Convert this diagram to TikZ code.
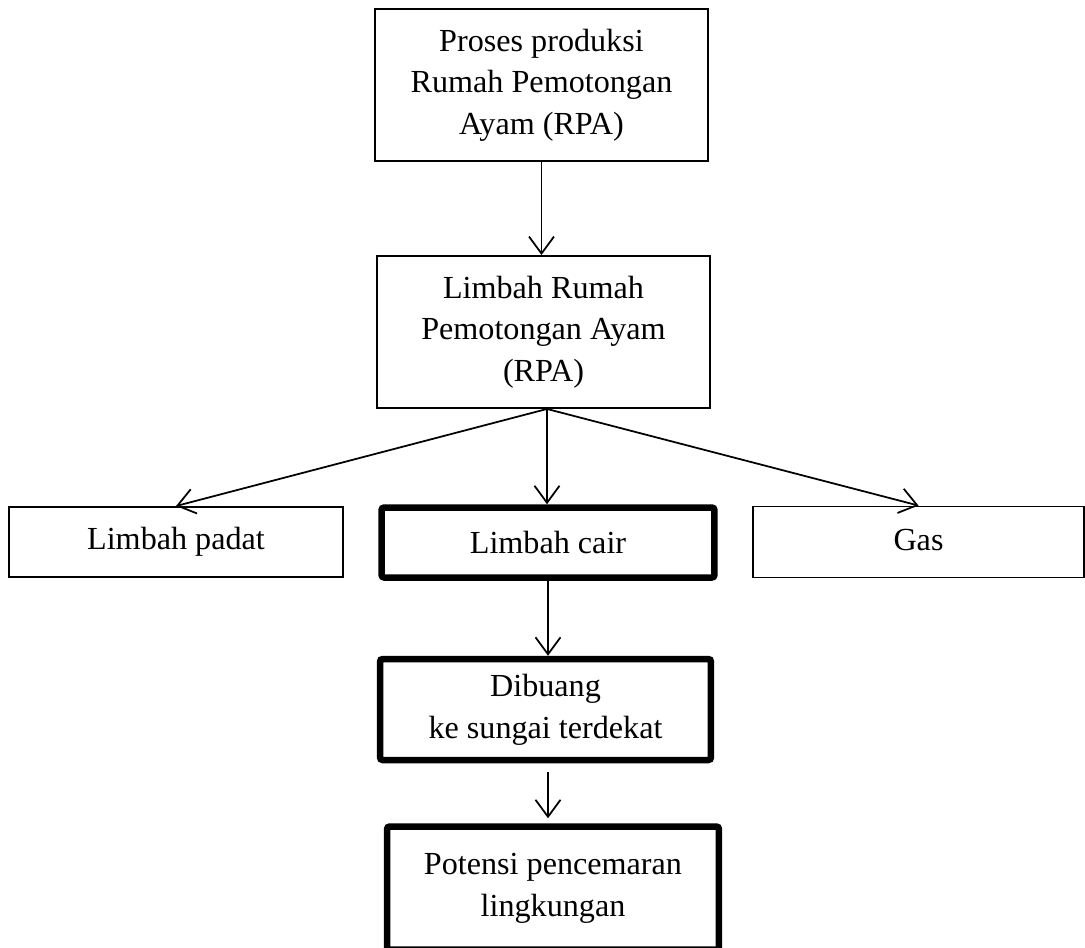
\documentclass[tikz,border=0pt]{standalone}
\usepackage{fontspec}
\setmainfont{Liberation Serif}
\usetikzlibrary{arrows.meta, positioning, calc}
\definecolor{hitam}{HTML}{000000}
\colorlet{colGaris}{hitam}
\colorlet{colTeks}{hitam}
\newcommand{\hurufKotak}{\fontsize{18.3}{23.7}\selectfont}
\tikzset{
  kotakBiasa/.style={
    draw=colGaris, line width=1.1pt, inner sep=0pt,
    align=center, font=\hurufKotak, text=colTeks, fill=white
  },
  kotakTebal/.style={kotakBiasa, line width=3.7pt, rounded corners=1.5pt},
  panah/.style={-{Straight Barb[length=0.34cm, width=0.5cm]}, line width=1pt, colGaris},
}
\begin{document}
\begin{tikzpicture}[x=0.02cm, y=-0.02cm]
    \useasboundingbox (0,0) rectangle (1085,947);
    \node[kotakBiasa, minimum width=6.66cm, minimum height=3.04cm] (proses) at (541.5,85)
      {Proses produksi\\Rumah Pemotongan\\Ayam (RPA)};
    \node[kotakBiasa, minimum width=6.66cm, minimum height=3.04cm] (limbah) at (543.5,332)
      {Limbah Rumah\\Pemotongan Ayam\\(RPA)};
    \node[kotakBiasa, minimum width=6.68cm, minimum height=1.4cm] (padat) at (176,542) {Limbah padat};
    \node[kotakTebal, minimum width=6.66cm, minimum height=1.4cm] (cair) at (548,542.5) {Limbah cair};
    \node[kotakBiasa, minimum width=6.62cm, minimum height=1.42cm, text depth=0.1cm] (gas) at (918.5,542) {Gas};
    \node[kotakTebal, minimum width=6.62cm, minimum height=2.02cm] (dibuang) at (545.5,709.5)
      {Dibuang\\ke sungai terdekat};
    \node[kotakTebal, minimum width=6.64cm, minimum height=2.46cm] (potensi) at (553,888)
      {Potensi pencemaran\\lingkungan};

    \coordinate (cabang) at ($(limbah.south)+(3.5,0)$);
    \draw[panah] (proses.south) -- (proses.south |- limbah.north);
    \draw[panah] (cabang) -- (padat.north);
    \draw[panah] (cabang) -- (cabang |- cair.north);
    \draw[panah] (cabang) -- (gas.north);
    \draw[panah] (cair.south) -- (cair.south |- dibuang.north);
    \draw[panah, shorten <=0.18cm, shorten >=0.1cm] (cair.south |- dibuang.south) -- (cair.south |- potensi.north);
  \end{tikzpicture}
\end{document}
